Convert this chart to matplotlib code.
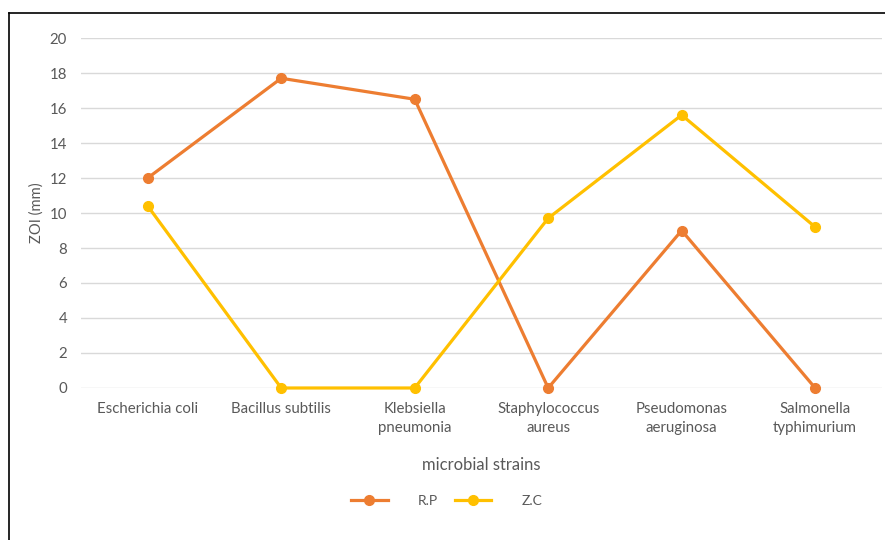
import matplotlib.pyplot as plt
from matplotlib.lines import Line2D

# ZOI values per strain for each extract
strains = ["Escherichia coli", "Bacillus subtilis", "Klebsiella\npneumonia",
           "Staphylococcus\naureus", "Pseudomonas\naeruginosa", "Salmonella\ntyphimurium"]
rp = [12.0, 17.7, 16.5, 0.0, 9.0, 0.0]
zc = [10.4, 0.0, 0.0, 9.7, 15.6, 9.2]
yticks = [0, 2, 4, 6, 8, 10, 12, 14, 16, 18, 20]

ORANGE = "#ED7D31"
YELLOW = "#FFC000"
GREY = "#595959"

plt.rcParams['font.family'] = ['Lato', 'DejaVu Sans']

fig = plt.figure(figsize=(8.85, 5.4), dpi=100)
ax = fig.add_axes([0.0915, 0.2815, 0.905, 0.6481])

x = list(range(len(strains)))
ax.plot(x, rp, color=ORANGE, lw=2.3, marker='o', ms=7, label='R.P', zorder=3, clip_on=False)
ax.plot(x, zc, color=YELLOW, lw=2.3, marker='o', ms=7, label='Z.C', zorder=3, clip_on=False)

ax.set_xlim(-0.5, len(strains) - 0.5)
ax.set_ylim(0, 20)
ax.set_yticks(yticks)
ax.set_xticks(x)
ax.set_xticklabels(strains, fontsize=10.8, color=GREY, linespacing=1.45)
ax.tick_params(axis='y', labelsize=10.8, labelcolor=GREY, length=0, pad=10)
ax.tick_params(axis='x', length=0, pad=10)
ax.grid(axis='y', color='#D9D9D9', lw=1)
ax.set_axisbelow(True)
for s in ax.spines.values():
    s.set_visible(False)

ax.set_ylabel("ZOI (mm)", fontsize=10.6, color=GREY, labelpad=4)
ax.set_xlabel("microbial strains", fontsize=12, color=GREY, labelpad=16)

handles = [Line2D([], [], color=ORANGE, lw=2.3, marker='o', ms=7),
           Line2D([], [], color=YELLOW, lw=2.3, marker='o', ms=7)]
fig.legend(handles, ['R.P', 'Z.C'], loc='center', bbox_to_anchor=(0.505, 0.073),
           ncol=2, frameon=False, fontsize=10, labelcolor=GREY,
           handlelength=2.6, handletextpad=2.2, columnspacing=1.2)

# chart border (top and left edges)
fig.add_artist(Line2D([0.0102, 1.0], [0.976, 0.976], color='black', lw=1.2))
fig.add_artist(Line2D([0.0102, 0.0102], [0.0, 0.976], color='black', lw=1.2))

fig.savefig("out.png", dpi=100)
